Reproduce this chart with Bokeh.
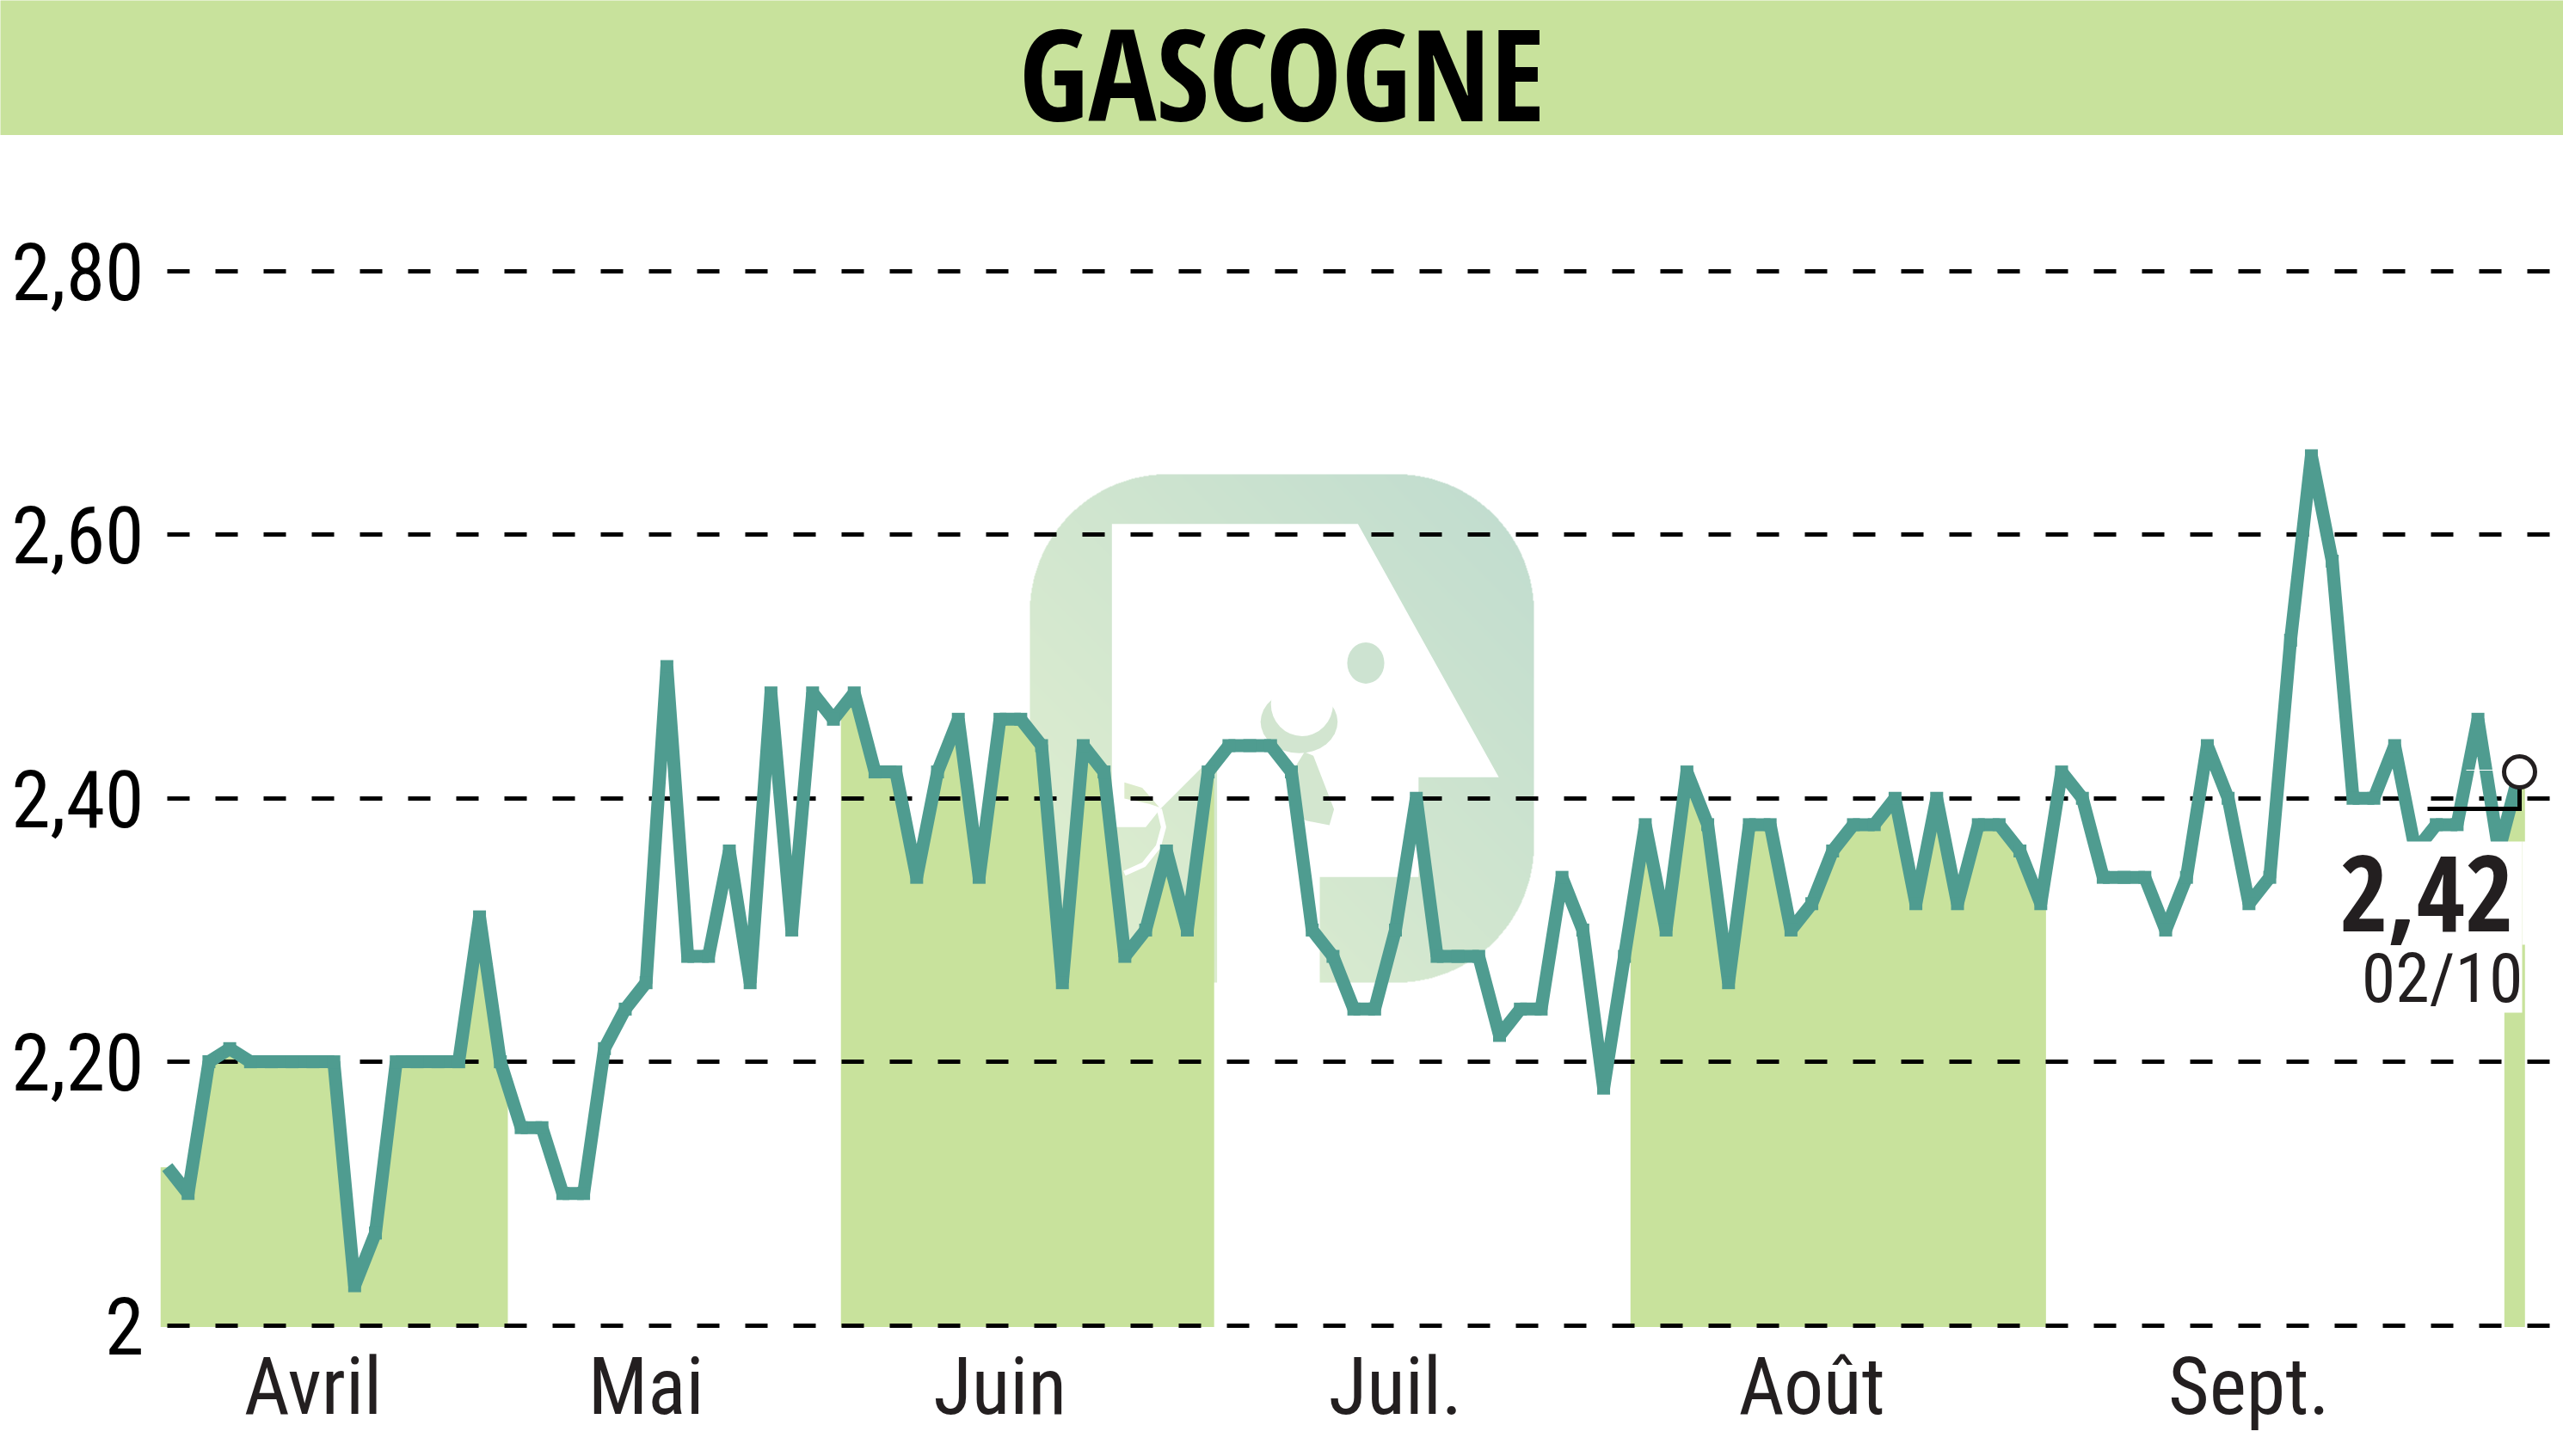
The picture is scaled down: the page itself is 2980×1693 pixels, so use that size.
import numpy as np
from bokeh.core.properties import value
from bokeh.embed import file_html
from bokeh.layouts import column
from bokeh.models import FixedTicker, Range1d
from bokeh.plotting import figure
from bokeh.resources import INLINE

# ---------- data ----------
title_text = "GASCOGNE"
prices = [2.12, 2.10, 2.20, 2.21, 2.20, 2.20, 2.20, 2.20, 2.20, 2.03,
          2.07, 2.20, 2.20, 2.20, 2.20, 2.31, 2.20, 2.15, 2.15, 2.10,
          2.10, 2.21, 2.24, 2.26, 2.50, 2.28, 2.28, 2.36, 2.26, 2.48,
          2.30, 2.48, 2.46, 2.48, 2.42, 2.42, 2.34, 2.42, 2.46, 2.34,
          2.46, 2.46, 2.44, 2.26, 2.44, 2.42, 2.28, 2.30, 2.36, 2.30,
          2.42, 2.44, 2.44, 2.44, 2.42, 2.30, 2.28, 2.24, 2.24, 2.30,
          2.40, 2.28, 2.28, 2.28, 2.22, 2.24, 2.24, 2.34, 2.30, 2.18,
          2.28, 2.38, 2.30, 2.42, 2.38, 2.26, 2.38, 2.38, 2.30, 2.32,
          2.36, 2.38, 2.38, 2.40, 2.32, 2.40, 2.32, 2.38, 2.38, 2.36,
          2.32, 2.42, 2.40, 2.34, 2.34, 2.34, 2.30, 2.34, 2.44, 2.40,
          2.32, 2.34, 2.52, 2.66, 2.58, 2.40, 2.40, 2.44, 2.36, 2.38,
          2.38, 2.46, 2.36, 2.42]
y_ticks = [2.0, 2.2, 2.4, 2.6, 2.8]
y_tick_labels = ["2", "2,20", "2,40", "2,60", "2,80"]
month_ticks = [7, 23, 40, 59, 79, 100]
month_labels = ["Avril", "Mai", "Juin", "Juil.", "Août", "Sept."]
band_start = [-0.33, 32.36, 70.29, 112.27]
band_end = [16.36, 50.29, 90.25, 113.26]
last_value_text = "2,42"
last_date_text = "02/10"

# ---------- style / layout (page pixels) ----------
GREEN = "#c8e29c"
LINE = "#4f9c90"
INK = "#231f20"
FONT = "Roboto Condensed"
FONT_BOLD = "Open Sans Condensed"
W, H = 2980, 1693
HEAD_H = 157
FRAME_L, FRAME_R, FRAME_T, FRAME_B = 186, 2980, 157, 1545
X0, DX = 194.0, 2735.0 / 113
Y2, PER_UNIT = 1540.5, 1531.9


def uy(v):
    """page y (downwards) -> upward pixel coordinate"""
    return H - v


def zx(v):
    return 1170 + v / 2.412


def zy(v):
    return uy(530 + v / 2.412)


# ---------- header ----------
head = figure(width=W, height=HEAD_H, output_backend="svg", toolbar_location=None,
              x_range=Range1d(0, W), y_range=Range1d(0, HEAD_H),
              min_border=0, outline_line_color=None, frame_align=False,
              background_fill_color=GREEN, border_fill_color=GREEN)
head.axis.visible = False
head.grid.visible = False
head.text(x=[1490], y=[74], text=[title_text], text_font=value(FONT_BOLD), text_font_style="bold",
          text_font_size="148px", text_align="center", text_baseline="alphabetic",
          text_color="#000000")

# ---------- chart ----------
x_range = Range1d((FRAME_L - X0) / DX, (FRAME_R - X0) / DX)
y_range = Range1d(2 - (FRAME_B - Y2) / PER_UNIT, 2 + (Y2 - FRAME_T) / PER_UNIT)
p = figure(width=W, height=H - HEAD_H, output_backend="svg", toolbar_location=None,
           x_range=x_range, y_range=y_range, frame_align=False,
           min_border_left=FRAME_L, min_border_right=0, min_border_top=0,
           min_border_bottom=H - FRAME_B,
           outline_line_color=None, background_fill_color="white")
p.extra_x_ranges["px"] = Range1d(FRAME_L, FRAME_R)
p.extra_y_ranges["px"] = Range1d(uy(FRAME_B), uy(FRAME_T))
PX = dict(x_range_name="px", y_range_name="px")

p.xaxis.ticker = FixedTicker(ticks=month_ticks)
p.xaxis.major_label_overrides = dict(zip(month_ticks, month_labels))
p.yaxis.ticker = FixedTicker(ticks=y_ticks)
p.yaxis.major_label_overrides = dict(zip(y_ticks, y_tick_labels))
for ax, col in ((p.xaxis, INK), (p.yaxis, "#000000")):
    ax.axis_line_color = None
    ax.major_tick_line_color = None
    ax.minor_tick_line_color = None
    ax.major_label_text_font = FONT
    ax.major_label_text_font_size = "92px"
    ax.major_label_text_color = col
p.xaxis.major_label_standoff = 7
p.yaxis.major_label_standoff = 13
p.xgrid.visible = False
p.ygrid.ticker = FixedTicker(ticks=y_ticks)
p.ygrid.grid_line_color = "#000000"
p.ygrid.grid_line_width = 5
p.ygrid.grid_line_dash = [26, 30]
p.ygrid.grid_line_dash_offset = 48

# watermark: gradient rounded square
wx0, wx1, wy0, wy1 = 1197, 1783, 551, 1142
rad = 160
nx, ny = (wx1 - wx0), (wy1 - wy0)
gx, gy = np.meshgrid(np.arange(nx) + 0.5, np.arange(ny) + 0.5)  # gy upward
t = (gx / nx + gy / ny) / 2
c0 = np.array([226, 240, 208.0])
c1 = np.array([192, 220, 207.0])
img = np.zeros((ny, nx, 4), dtype=np.uint8)
for k in range(3):
    img[..., k] = (c0[k] + (c1[k] - c0[k]) * t).astype(np.uint8)
ddx = np.maximum(np.maximum(rad - gx, gx - (nx - rad)), 0)
ddy = np.maximum(np.maximum(rad - gy, gy - (ny - rad)), 0)
img[..., 3] = np.where(ddx ** 2 + ddy ** 2 <= rad ** 2, 255, 0)
img_view = img.view(dtype=np.uint32).reshape((ny, nx))
p.image_rgba(image=[img_view], x=wx0, y=uy(wy1), dw=nx, dh=ny, level="image", **PX)

# watermark: white head and details
head_poly = [(295, 190), (985, 190), (1380, 900), (1155, 900), (1155, 1180), (878, 1180),
             (878, 1480), (590, 1480), (590, 850), (550, 870), (430, 990), (390, 1040),
             (295, 1040)]
p.patch([zx(a) for a, _ in head_poly], [zy(b) for _, b in head_poly], fill_color="white",
        line_color=None, level="image", **PX)
horn = [(330, 915), (380, 930), (428, 985), (400, 975), (330, 960)]
p.patch([zx(a) for a, _ in horn], [zy(b) for _, b in horn], fill_color="#dcebcb",
        line_color=None, level="image", **PX)
swirl = [(428, 990), (440, 1040), (425, 1095), (385, 1145), (330, 1170)]
p.line([zx(a) for a, _ in swirl], [zy(b) for _, b in swirl], line_color="white",
       line_width=6, level="image", **PX)
ear = [(835, 830), (860, 840), (918, 990), (905, 1035), (840, 1022), (800, 1000), (810, 870)]
p.patch([zx(a) for a, _ in ear], [zy(b) for _, b in ear], fill_color="#d3e6cf",
        line_color=None, level="image", **PX)
p.ellipse(x=[zx(820)], y=[zy(745)], width=[216 / 2.412], height=[176 / 2.412],
          fill_color="#d2e5d0", line_color=None, level="image", **PX)
p.ellipse(x=[zx(828)], y=[zy(695)], width=[174 / 2.412], height=[180 / 2.412],
          fill_color="white", line_color=None, level="image", **PX)
p.ellipse(x=[zx(1007)], y=[zy(580)], width=[104 / 2.412], height=[116 / 2.412],
          fill_color="#cde3d1", line_color=None, level="image", **PX)

# bands under the price line
idx = np.arange(len(prices))
vals = np.array(prices)
for a, b in zip(band_start, band_end):
    inner = idx[(idx > a) & (idx < b)]
    bx = np.concatenate([[a], inner, [b]])
    top = np.interp(bx, idx, vals)
    p.varea(x=bx, y1=np.full(bx.shape, 2 - 2 / PER_UNIT), y2=top, fill_color=GREEN, level="image")

# price line with small square points
p.line(idx, vals, line_color=LINE, line_width=15, line_join="bevel", line_cap="butt")
p.scatter(idx[1:], vals[1:], marker="square", size=15, fill_color=LINE, line_color=None)

# white boxes behind the last-value label
p.quad(left=[2700, 2932], right=[2932, 2937], top=[uy(978), uy(978)], bottom=[uy(1177), uy(1098)],
       fill_color="white", line_color=None, **PX)

# last-value marker
p.line([2867, 2913], [uy(895), uy(895)], line_color="white", line_width=1, **PX)
p.line([2822, 2929, 2929], [uy(940), uy(940), uy(912)], line_color="#000000", line_width=5,
       line_join="miter", **PX)
p.scatter(x=[idx[-1]], y=[vals[-1]], marker="circle", size=36, fill_color="white",
          line_color=INK, line_width=5)

p.text(x=[2922], y=[uy(1082 - 44)], text=[last_value_text], text_font=value(FONT_BOLD), text_font_style="bold",
       text_font_size="122px", text_align="right", text_baseline="alphabetic", text_color=INK, **PX)
p.text(x=[2933], y=[uy(1167 - 30)], text=[last_date_text], text_font=value(FONT),
       text_font_size="80px", text_align="right", text_baseline="alphabetic", text_color=INK, **PX)

layout = column(head, p, spacing=0)
open("out.html", "w").write(file_html(layout, INLINE))
